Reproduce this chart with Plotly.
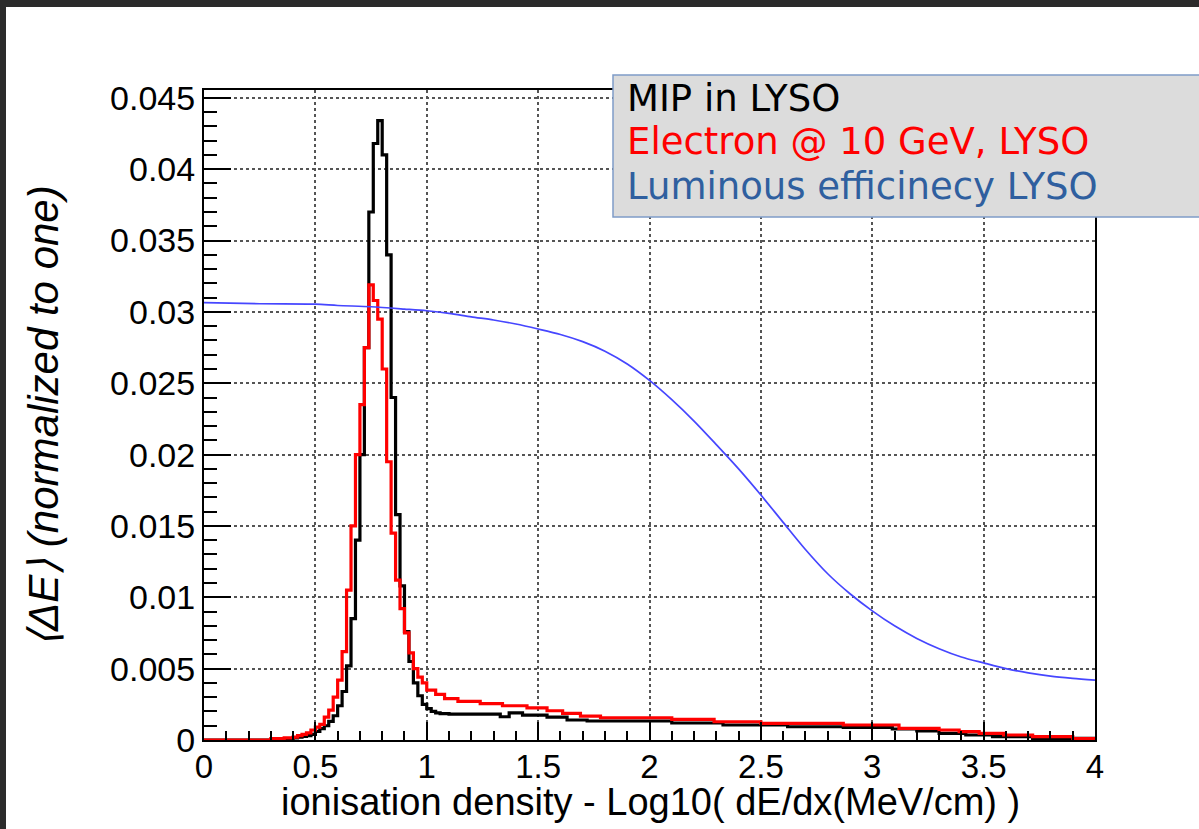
import plotly.graph_objects as go

# ---------------- data ----------------
# MIP in LYSO (black histogram): bin edges and bin contents
mip_edges = [0.00, 0.34, 0.36, 0.38, 0.40, 0.42, 0.44, 0.46, 0.48, 0.50,
             0.52, 0.54, 0.56, 0.58, 0.60, 0.62, 0.64, 0.66, 0.68, 0.70,
             0.72, 0.74, 0.76, 0.78, 0.80, 0.82, 0.84, 0.86, 0.88, 0.90,
             0.92, 0.94, 0.96, 0.98, 1.00, 1.02, 1.04, 1.06, 1.10, 1.33,
             1.37, 1.43, 1.54, 1.63, 1.72, 2.10, 2.33, 2.62, 2.87, 3.09,
             3.20, 3.30, 3.42, 3.54, 3.72, 4.00]
mip_vals = [0.0, 0.00005, 0.0001, 0.0001, 0.00015, 0.0002, 0.00025, 0.0003, 0.0004, 0.0006,
            0.0008, 0.0010, 0.0013, 0.0017, 0.0024, 0.0034, 0.0052, 0.0085, 0.0140, 0.0200,
            0.0275, 0.0370, 0.0418, 0.0434, 0.0410, 0.0340, 0.0240, 0.0158, 0.0108, 0.0076,
            0.0055, 0.0040, 0.0031, 0.0025, 0.0022, 0.0020, 0.0019, 0.00185, 0.00182, 0.00163,
            0.0019, 0.00175, 0.0016, 0.0014, 0.00133, 0.00119, 0.00105, 0.00093, 0.00088, 0.00077,
            0.00063, 0.00047, 0.00035, 0.00023, 0.00012]

# Electron @ 10 GeV, LYSO (red histogram)
ele_edges = [0.00, 0.30, 0.36, 0.40, 0.42, 0.44, 0.46, 0.48, 0.50, 0.52,
             0.54, 0.56, 0.58, 0.60, 0.62, 0.64, 0.66, 0.68, 0.70, 0.72,
             0.74, 0.76, 0.78, 0.80, 0.82, 0.84, 0.86, 0.88, 0.90, 0.92,
             0.94, 0.96, 0.98, 1.00, 1.04, 1.08, 1.14, 1.24, 1.34, 1.45,
             1.54, 1.61, 1.69, 1.78, 2.10, 2.29, 2.50, 2.87, 3.12, 3.30,
             3.39, 3.48, 3.59, 3.72, 3.90, 4.00]
ele_vals = [0.0, 0.0001, 0.00015, 0.0002, 0.0003, 0.0004, 0.0005, 0.0007, 0.0009, 0.0011,
            0.0016, 0.0021, 0.0030, 0.0042, 0.0062, 0.0105, 0.0150, 0.0200, 0.0235, 0.0275,
            0.0319, 0.0308, 0.0295, 0.0260, 0.0195, 0.0145, 0.0112, 0.0092, 0.0075, 0.0061,
            0.0050, 0.0044, 0.0040, 0.0035, 0.0032, 0.0029, 0.0027, 0.00255, 0.0024, 0.00225,
            0.00205, 0.00187, 0.00168, 0.00156, 0.00145, 0.00128, 0.00117, 0.00105, 0.00082, 0.0007,
            0.00058, 0.00047, 0.00035, 0.00023, 0.0001]

# Luminous efficiency LYSO (blue curve)
lum_x = [0.0, 0.25, 0.5, 0.6, 0.75, 0.9, 1.0, 1.1, 1.2, 1.3, 1.4, 1.5, 1.6, 1.7,
         1.8, 1.9, 2.0, 2.1, 2.2, 2.3, 2.4, 2.5, 2.6, 2.7, 2.8, 2.9, 3.0, 3.1,
         3.2, 3.3, 3.4, 3.5, 3.6, 3.7, 3.8, 3.9, 4.0]
lum_y = [0.03065, 0.03057, 0.03054, 0.03045, 0.03036, 0.03020, 0.03008, 0.02990, 0.02965,
         0.02943, 0.02915, 0.02880, 0.02842, 0.02792, 0.02725, 0.02635, 0.02520, 0.02385,
         0.02235, 0.02070, 0.01900, 0.01717, 0.01525, 0.01335, 0.01165, 0.01025, 0.00905,
         0.00800, 0.00712, 0.00640, 0.00582, 0.00540, 0.00500, 0.00470, 0.00447, 0.00432,
         0.00420]

y_tickvals = [0, 0.005, 0.01, 0.015, 0.02, 0.025, 0.03, 0.035, 0.04, 0.045]
y_ticktext = ["0", "0.005", "0.01", "0.015", "0.02", "0.025", "0.03", "0.035", "0.04", "0.045"]
x_tickvals = [0, 0.5, 1, 1.5, 2, 2.5, 3, 3.5, 4]
x_ticktext = ["0", "0.5", "1", "1.5", "2", "2.5", "3", "3.5", "4"]

legend_lines = ["MIP in LYSO", "Electron @ 10 GeV, LYSO", "Luminous efficinecy LYSO"]
legend_colors = ["#000000", "#ff0000", "#2f5f9f"]

x_title = "ionisation density - Log10( dE/dx(MeV/cm) )"
y_title = "<i>⟨ΔE⟩ (normalized to one)</i>"

# ---------------- layout geometry (pixels) ----------------
W, H = 1199, 829
L, R, T, B = 204, 1095, 90, 740  # plot area


def px(x):
    return (x - L) / (R - L)


def py(y):
    return (B - y) / (B - T)


FONT = "Liberation Sans, Arial, Helvetica, sans-serif"

fig = go.Figure()

fig.add_trace(go.Scatter(x=mip_edges, y=mip_vals + [mip_vals[-1]], mode="lines",
                         line=dict(color="#000000", width=3.2, shape="hv"),
                         showlegend=False, hoverinfo="skip"))
fig.add_trace(go.Scatter(x=ele_edges, y=ele_vals + [ele_vals[-1]], mode="lines",
                         line=dict(color="#ff0000", width=3.2, shape="hv"),
                         showlegend=False, hoverinfo="skip"))
fig.add_trace(go.Scatter(x=lum_x, y=lum_y, mode="lines",
                         line=dict(color="#4646ff", width=1.7, shape="spline", smoothing=0.8),
                         showlegend=False, hoverinfo="skip"))

axis_common = dict(
    showline=True, linecolor="#000000", linewidth=2, mirror=True,
    ticks="inside", tickcolor="#000000", tickwidth=2,
    showgrid=True, gridcolor="#555555", gridwidth=1.5, griddash="dot",
    zeroline=False,
)

fig.update_xaxes(range=[0, 4], tickmode="array", tickvals=x_tickvals, ticktext=x_ticktext,
                 ticklen=18, ticklabelstandoff=-4,
                 tickfont=dict(family=FONT, size=33, color="#000000"),
                 minor=dict(dtick=0.1, ticks="inside", ticklen=9, tickcolor="#000000",
                            tickwidth=2, showgrid=False),
                 **axis_common)
fig.update_yaxes(range=[0, 0.04555], tickmode="array", tickvals=y_tickvals, ticktext=y_ticktext,
                 ticklen=27, ticklabelstandoff=0,
                 tickfont=dict(family=FONT, size=34, color="#000000"),
                 minor=dict(dtick=0.001, ticks="inside", ticklen=13, tickcolor="#000000",
                            tickwidth=2, showgrid=False),
                 **axis_common)

shapes = [
    # dark window frame at the top and left
    dict(type="rect", xref="paper", yref="paper", x0=px(-5), x1=px(W + 5), y0=py(7), y1=py(-5),
         fillcolor="#2b2b2b", line=dict(width=0), layer="above"),
    dict(type="rect", xref="paper", yref="paper", x0=px(-5), x1=px(6), y0=py(H + 5), y1=py(-5),
         fillcolor="#2b2b2b", line=dict(width=0), layer="above"),
    # legend box
    dict(type="rect", xref="paper", yref="paper", x0=px(613), x1=px(W + 10), y0=py(217), y1=py(75),
         fillcolor="#dcdcdc", line=dict(color="#7f9cc8", width=1.5), layer="above"),
]

annotations = []
for i, (txt, col) in enumerate(zip(legend_lines, legend_colors)):
    annotations.append(dict(
        x=px(625), y=py(98 + 44 * i), xref="paper", yref="paper",
        xanchor="left", yanchor="middle", showarrow=False, text=txt,
        font=dict(family="DejaVu Sans, sans-serif", size=37, color=col)))

annotations.append(dict(
    x=px(650), y=py(802), xref="paper", yref="paper", xanchor="center", yanchor="middle",
    showarrow=False, text=x_title, font=dict(family=FONT, size=38, color="#000000")))
annotations.append(dict(
    x=px(44), y=py(416), xref="paper", yref="paper", xanchor="center", yanchor="middle",
    showarrow=False, text=y_title, textangle=-90,
    font=dict(family=FONT, size=42, color="#000000")))

fig.update_layout(
    width=W, height=H,
    margin=dict(l=L, r=W - R, t=T, b=H - B, pad=0),
    paper_bgcolor="#ffffff", plot_bgcolor="#ffffff",
    shapes=shapes, annotations=annotations,
    showlegend=False,
)

fig.write_html("out.html")
